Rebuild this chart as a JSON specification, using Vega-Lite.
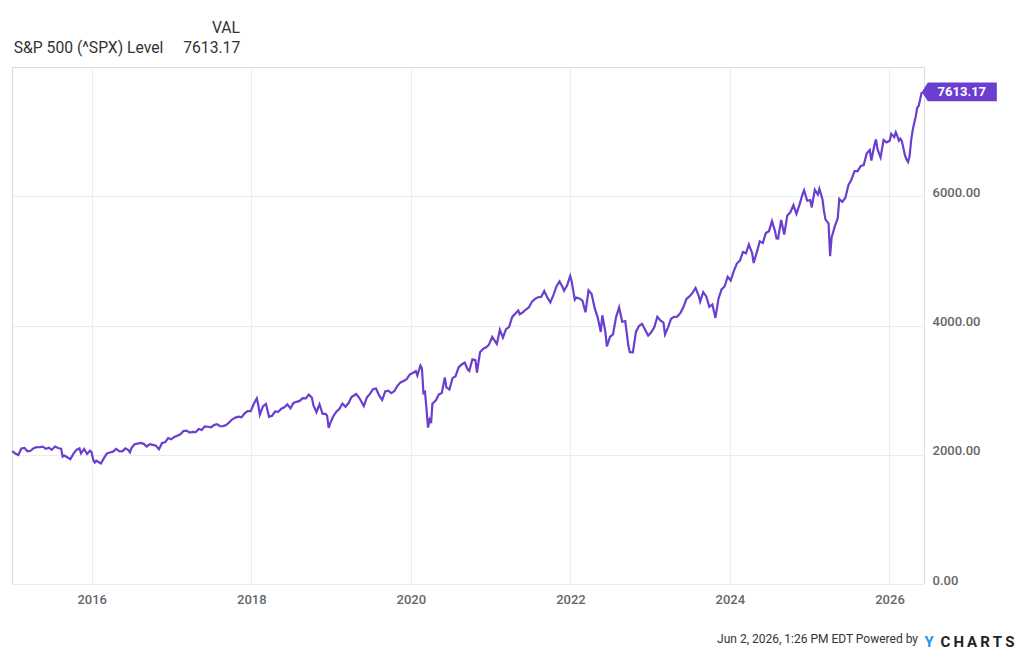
{
  "$schema": "https://vega.github.io/schema/vega-lite/v6.json",
  "width": 912,
  "height": 517,
  "autosize": {"type": "none"},
  "padding": {"left": 12, "top": 67, "right": 100, "bottom": 76},
  "background": "white",
  "config": {
    "font": "Roboto",
    "view": {"stroke": "#dcdcdc", "strokeWidth": 1}
  },
  "title": {
    "text": "Jun 2, 2026, 1:26 PM EDT Powered by",
    "orient": "bottom",
    "anchor": "end",
    "frame": "group",
    "dx": -6,
    "offset": -15,
    "font": "Roboto",
    "fontSize": 12,
    "fontWeight": "normal",
    "color": "#333333"
  },
  "data": {
    "values": [
      {"d":"2015-01-02","v":2058},{"d":"2015-01-16","v":2019},{"d":"2015-01-30","v":1995},{"d":"2015-02-13","v":2097},{"d":"2015-02-27","v":2105},{"d":"2015-03-13","v":2053},{"d":"2015-03-27","v":2061},{"d":"2015-04-10","v":2102},{"d":"2015-04-24","v":2117},{"d":"2015-05-08","v":2116},{"d":"2015-05-22","v":2126},{"d":"2015-06-05","v":2092},{"d":"2015-06-19","v":2110},{"d":"2015-07-02","v":2077},{"d":"2015-07-17","v":2127},{"d":"2015-07-31","v":2104},{"d":"2015-08-14","v":2092},{"d":"2015-08-21","v":1971},{"d":"2015-08-28","v":1989},{"d":"2015-09-11","v":1961},{"d":"2015-09-25","v":1931},{"d":"2015-10-09","v":2014},{"d":"2015-10-23","v":2075},{"d":"2015-11-06","v":2099},{"d":"2015-11-13","v":2023},{"d":"2015-11-27","v":2090},{"d":"2015-12-11","v":2012},{"d":"2015-12-24","v":2061},{"d":"2015-12-31","v":2044},
      {"d":"2016-01-08","v":1922},{"d":"2016-01-15","v":1880},{"d":"2016-01-22","v":1907},{"d":"2016-02-05","v":1880},{"d":"2016-02-12","v":1865},{"d":"2016-02-26","v":1948},{"d":"2016-03-11","v":2022},{"d":"2016-03-24","v":2035},{"d":"2016-04-08","v":2048},{"d":"2016-04-22","v":2092},{"d":"2016-05-06","v":2057},{"d":"2016-05-20","v":2052},{"d":"2016-06-03","v":2099},{"d":"2016-06-17","v":2071},{"d":"2016-06-24","v":2037},{"d":"2016-07-01","v":2103},{"d":"2016-07-15","v":2162},{"d":"2016-07-29","v":2173},{"d":"2016-08-12","v":2184},{"d":"2016-08-26","v":2169},{"d":"2016-09-09","v":2128},{"d":"2016-09-23","v":2165},{"d":"2016-10-07","v":2153},{"d":"2016-10-21","v":2141},{"d":"2016-11-04","v":2085},{"d":"2016-11-18","v":2182},{"d":"2016-12-02","v":2192},{"d":"2016-12-16","v":2258},{"d":"2016-12-30","v":2239},
      {"d":"2017-01-13","v":2275},{"d":"2017-01-27","v":2295},{"d":"2017-02-10","v":2316},{"d":"2017-02-24","v":2367},{"d":"2017-03-10","v":2373},{"d":"2017-03-24","v":2344},{"d":"2017-04-07","v":2355},{"d":"2017-04-21","v":2349},{"d":"2017-05-05","v":2399},{"d":"2017-05-19","v":2382},{"d":"2017-06-02","v":2439},{"d":"2017-06-16","v":2433},{"d":"2017-06-30","v":2423},{"d":"2017-07-14","v":2459},{"d":"2017-07-28","v":2472},{"d":"2017-08-11","v":2441},{"d":"2017-08-25","v":2444},{"d":"2017-09-08","v":2461},{"d":"2017-09-22","v":2502},{"d":"2017-10-06","v":2549},{"d":"2017-10-20","v":2575},{"d":"2017-11-03","v":2588},{"d":"2017-11-17","v":2579},{"d":"2017-12-01","v":2642},{"d":"2017-12-15","v":2676},{"d":"2017-12-29","v":2674},
      {"d":"2018-01-12","v":2786},{"d":"2018-01-26","v":2873},{"d":"2018-02-02","v":2762},{"d":"2018-02-09","v":2620},{"d":"2018-02-23","v":2747},{"d":"2018-03-09","v":2786},{"d":"2018-03-23","v":2588},{"d":"2018-04-06","v":2604},{"d":"2018-04-20","v":2670},{"d":"2018-05-04","v":2663},{"d":"2018-05-18","v":2713},{"d":"2018-06-01","v":2735},{"d":"2018-06-15","v":2780},{"d":"2018-06-29","v":2718},{"d":"2018-07-13","v":2801},{"d":"2018-07-27","v":2819},{"d":"2018-08-10","v":2833},{"d":"2018-08-24","v":2875},{"d":"2018-09-07","v":2872},{"d":"2018-09-21","v":2930},{"d":"2018-10-05","v":2886},{"d":"2018-10-12","v":2767},{"d":"2018-10-26","v":2658},{"d":"2018-11-09","v":2781},{"d":"2018-11-23","v":2633},{"d":"2018-12-07","v":2633},{"d":"2018-12-14","v":2600},{"d":"2018-12-21","v":2417},{"d":"2018-12-28","v":2486},
      {"d":"2019-01-11","v":2596},{"d":"2019-01-25","v":2665},{"d":"2019-02-08","v":2708},{"d":"2019-02-22","v":2793},{"d":"2019-03-08","v":2743},{"d":"2019-03-22","v":2800},{"d":"2019-04-05","v":2893},{"d":"2019-04-26","v":2940},{"d":"2019-05-10","v":2881},{"d":"2019-05-31","v":2752},{"d":"2019-06-14","v":2887},{"d":"2019-06-28","v":2942},{"d":"2019-07-12","v":3014},{"d":"2019-07-26","v":3026},{"d":"2019-08-09","v":2919},{"d":"2019-08-23","v":2847},{"d":"2019-09-06","v":2979},{"d":"2019-09-20","v":2992},{"d":"2019-10-04","v":2952},{"d":"2019-10-18","v":2986},{"d":"2019-11-01","v":3067},{"d":"2019-11-15","v":3120},{"d":"2019-11-29","v":3141},{"d":"2019-12-13","v":3169},{"d":"2019-12-27","v":3240},
      {"d":"2020-01-10","v":3265},{"d":"2020-01-24","v":3295},{"d":"2020-01-31","v":3226},{"d":"2020-02-14","v":3380},{"d":"2020-02-21","v":3338},{"d":"2020-02-28","v":2954},{"d":"2020-03-06","v":2972},{"d":"2020-03-13","v":2711},{"d":"2020-03-20","v":2420},{"d":"2020-03-27","v":2541},{"d":"2020-04-03","v":2489},{"d":"2020-04-09","v":2790},{"d":"2020-04-24","v":2837},{"d":"2020-05-08","v":2930},{"d":"2020-05-22","v":2955},{"d":"2020-06-05","v":3194},{"d":"2020-06-12","v":3041},{"d":"2020-06-26","v":3009},{"d":"2020-07-10","v":3185},{"d":"2020-07-24","v":3216},{"d":"2020-08-07","v":3351},{"d":"2020-08-21","v":3397},{"d":"2020-09-04","v":3427},{"d":"2020-09-18","v":3319},{"d":"2020-09-25","v":3298},{"d":"2020-10-09","v":3477},{"d":"2020-10-23","v":3465},{"d":"2020-10-30","v":3270},{"d":"2020-11-13","v":3585},{"d":"2020-11-27","v":3638},{"d":"2020-12-11","v":3663},{"d":"2020-12-24","v":3703},
      {"d":"2021-01-08","v":3825},{"d":"2021-01-29","v":3714},{"d":"2021-02-12","v":3934},{"d":"2021-02-26","v":3811},{"d":"2021-03-12","v":3943},{"d":"2021-03-26","v":3975},{"d":"2021-04-09","v":4129},{"d":"2021-04-23","v":4180},{"d":"2021-05-07","v":4233},{"d":"2021-05-14","v":4174},{"d":"2021-05-28","v":4204},{"d":"2021-06-11","v":4247},{"d":"2021-06-25","v":4281},{"d":"2021-07-09","v":4370},{"d":"2021-07-23","v":4412},{"d":"2021-08-06","v":4437},{"d":"2021-08-20","v":4442},{"d":"2021-09-03","v":4535},{"d":"2021-09-17","v":4433},{"d":"2021-10-01","v":4357},{"d":"2021-10-15","v":4471},{"d":"2021-10-29","v":4605},{"d":"2021-11-12","v":4683},{"d":"2021-11-26","v":4595},{"d":"2021-12-03","v":4538},{"d":"2021-12-17","v":4621},{"d":"2021-12-31","v":4766},
      {"d":"2022-01-07","v":4677},{"d":"2022-01-21","v":4398},{"d":"2022-01-28","v":4432},{"d":"2022-02-11","v":4419},{"d":"2022-02-25","v":4385},{"d":"2022-03-11","v":4204},{"d":"2022-03-25","v":4543},{"d":"2022-04-08","v":4488},{"d":"2022-04-22","v":4272},{"d":"2022-05-06","v":4123},{"d":"2022-05-20","v":3901},{"d":"2022-05-27","v":4158},{"d":"2022-06-10","v":3901},{"d":"2022-06-17","v":3675},{"d":"2022-07-01","v":3825},{"d":"2022-07-15","v":3863},{"d":"2022-07-29","v":4130},{"d":"2022-08-12","v":4280},{"d":"2022-08-26","v":4058},{"d":"2022-09-09","v":4067},{"d":"2022-09-23","v":3693},{"d":"2022-09-30","v":3586},{"d":"2022-10-14","v":3583},{"d":"2022-10-28","v":3901},{"d":"2022-11-11","v":3993},{"d":"2022-11-25","v":4026},{"d":"2022-12-09","v":3934},{"d":"2022-12-23","v":3845},
      {"d":"2023-01-06","v":3895},{"d":"2023-01-20","v":3973},{"d":"2023-02-03","v":4136},{"d":"2023-02-17","v":4079},{"d":"2023-03-03","v":4046},{"d":"2023-03-10","v":3862},{"d":"2023-03-24","v":3971},{"d":"2023-04-07","v":4105},{"d":"2023-04-21","v":4133},{"d":"2023-05-05","v":4136},{"d":"2023-05-19","v":4192},{"d":"2023-06-02","v":4282},{"d":"2023-06-16","v":4410},{"d":"2023-06-30","v":4450},{"d":"2023-07-14","v":4505},{"d":"2023-07-28","v":4582},{"d":"2023-08-11","v":4464},{"d":"2023-08-18","v":4370},{"d":"2023-09-01","v":4516},{"d":"2023-09-15","v":4450},{"d":"2023-09-29","v":4288},{"d":"2023-10-13","v":4327},{"d":"2023-10-27","v":4117},{"d":"2023-11-10","v":4415},{"d":"2023-11-24","v":4559},{"d":"2023-12-08","v":4604},{"d":"2023-12-22","v":4755},
      {"d":"2024-01-05","v":4697},{"d":"2024-01-19","v":4840},{"d":"2024-02-02","v":4959},{"d":"2024-02-16","v":5005},{"d":"2024-03-01","v":5137},{"d":"2024-03-15","v":5117},{"d":"2024-03-28","v":5254},{"d":"2024-04-12","v":5123},{"d":"2024-04-19","v":4967},{"d":"2024-05-03","v":5128},{"d":"2024-05-17","v":5303},{"d":"2024-05-31","v":5278},{"d":"2024-06-14","v":5432},{"d":"2024-06-28","v":5460},{"d":"2024-07-12","v":5615},{"d":"2024-07-26","v":5459},{"d":"2024-08-02","v":5346},{"d":"2024-08-09","v":5344},{"d":"2024-08-23","v":5634},{"d":"2024-09-06","v":5408},{"d":"2024-09-20","v":5703},{"d":"2024-10-04","v":5751},{"d":"2024-10-18","v":5864},{"d":"2024-11-01","v":5729},{"d":"2024-11-15","v":5870},{"d":"2024-11-29","v":6032},{"d":"2024-12-06","v":6090},{"d":"2024-12-20","v":5930},
      {"d":"2025-01-03","v":5942},{"d":"2025-01-10","v":5827},{"d":"2025-01-24","v":6101},{"d":"2025-02-07","v":6026},{"d":"2025-02-14","v":6115},{"d":"2025-02-28","v":5955},{"d":"2025-03-07","v":5770},{"d":"2025-03-14","v":5639},{"d":"2025-03-28","v":5581},{"d":"2025-04-04","v":5074},{"d":"2025-04-11","v":5363},{"d":"2025-04-25","v":5525},{"d":"2025-05-09","v":5660},{"d":"2025-05-16","v":5958},{"d":"2025-05-30","v":5912},{"d":"2025-06-13","v":5977},{"d":"2025-06-27","v":6173},{"d":"2025-07-11","v":6260},{"d":"2025-07-25","v":6389},{"d":"2025-08-08","v":6389},{"d":"2025-08-22","v":6467},{"d":"2025-09-05","v":6482},{"d":"2025-09-19","v":6664},{"d":"2025-10-03","v":6716},{"d":"2025-10-10","v":6553},{"d":"2025-10-24","v":6792},{"d":"2025-10-31","v":6880},{"d":"2025-11-07","v":6729},{"d":"2025-11-21","v":6603},{"d":"2025-12-05","v":6870},{"d":"2025-12-19","v":6834},
      {"d":"2026-01-02","v":6858},{"d":"2026-01-09","v":6966},{"d":"2026-01-16","v":6940},{"d":"2026-01-23","v":6915},{"d":"2026-01-30","v":6990},{"d":"2026-02-06","v":6932},{"d":"2026-02-13","v":6860},{"d":"2026-02-20","v":6890},{"d":"2026-02-27","v":6850},{"d":"2026-03-06","v":6740},{"d":"2026-03-13","v":6632},{"d":"2026-03-20","v":6570},{"d":"2026-03-27","v":6530},{"d":"2026-04-03","v":6620},{"d":"2026-04-10","v":6860},{"d":"2026-04-17","v":7020},{"d":"2026-04-24","v":7130},{"d":"2026-05-01","v":7230},{"d":"2026-05-08","v":7370},{"d":"2026-05-15","v":7400},{"d":"2026-05-22","v":7510},{"d":"2026-05-29","v":7613.17}
    ]
  },
  "encoding": {
    "x": {
      "field": "d",
      "type": "temporal",
      "scale": {"domain": [{"year": 2015, "month": 1, "date": 1}, {"year": 2026, "month": 6, "date": 8}]},
      "axis": {
        "values": [{"year": 2016, "month": 1, "date": 1}, {"year": 2018, "month": 1, "date": 1}, {"year": 2020, "month": 1, "date": 1}, {"year": 2022, "month": 1, "date": 1}, {"year": 2024, "month": 1, "date": 1}, {"year": 2026, "month": 1, "date": 1}],
        "format": "%Y",
        "labelFont": "Roboto",
        "labelFontSize": 13,
        "labelFontWeight": 500,
        "labelColor": "#666666",
        "labelPadding": 9,
        "ticks": false,
        "domain": false,
        "grid": true,
        "gridColor": "#ececec",
        "title": "Y",
        "titleFont": "Roboto",
        "titleFontSize": 15,
        "titleFontWeight": "bold",
        "titleColor": "#2196f3",
        "titleAnchor": "start",
        "titleAlign": "left",
        "titleBaseline": "middle",
        "titleX": 912,
        "titleY": 57
      }
    },
    "y": {
      "field": "v",
      "type": "quantitative",
      "scale": {"domain": [0, 8000], "nice": false},
      "axis": {
        "orient": "right",
        "values": [0, 2000, 4000, 6000],
        "format": ".2f",
        "labelFont": "Roboto",
        "labelFontSize": 13,
        "labelFontWeight": 500,
        "labelColor": "#666666",
        "labelBaseline": "alphabetic",
        "labelPadding": 8,
        "ticks": false,
        "domain": false,
        "grid": true,
        "gridColor": "#ececec",
        "title": "C\u2009H\u2009A\u2009R\u2009T\u2009S",
        "titleFont": "Roboto",
        "titleFontSize": 15,
        "titleFontWeight": "bold",
        "titleColor": "#222222",
        "titleAngle": 0,
        "titleAlign": "left",
        "titleBaseline": "middle",
        "titleX": 16,
        "titleY": 574
      }
    }
  },
  "layer": [
    {
      "mark": {"type": "line", "strokeWidth": 2.2, "interpolate": "linear"},
      "encoding": {
        "color": {
          "datum": "S&P 500 (^SPX) Level",
          "type": "nominal",
          "scale": {"range": ["#6a3ecf"]},
          "legend": {
            "orient": "none",
            "legendX": -14,
            "legendY": -46,
            "title": "VAL",
            "titleAnchor": "end",
            "titleAlign": "right",
            "titleFont": "Roboto",
            "titleFontSize": 15.7,
            "titleFontWeight": "normal",
            "titleColor": "#333333",
            "titlePadding": 3,
            "labelFont": "Roboto",
            "labelFontSize": 15.7,
            "labelColor": "#333333",
            "labelLimit": 0,
            "labelOffset": 0,
            "labelExpr": "datum.label + '\u2003 7613.17'",
            "symbolSize": 0,
            "symbolStrokeWidth": 0,
            "symbolOpacity": 0,
            "padding": 0
          }
        }
      }
    },
    {
      "transform": [{"filter": "datum.v > 7600"}],
      "mark": {
        "type": "point",
        "shape": "M0,0 L0.16,-0.25 L2,-0.25 L2,0.25 L0.16,0.25 Z",
        "size": 5625,
        "filled": true,
        "opacity": 1,
        "color": "#6a3ecf",
        "strokeWidth": 0
      },
      "encoding": {}
    },
    {
      "transform": [{"filter": "datum.v > 7600"}],
      "mark": {
        "type": "text",
        "dx": 40,
        "align": "center",
        "baseline": "middle",
        "font": "Roboto",
        "fontSize": 13,
        "fontWeight": "bold",
        "color": "white"
      },
      "encoding": {
        "text": {"field": "v", "type": "quantitative", "format": ".2f"}
      }
    }
  ]
}
